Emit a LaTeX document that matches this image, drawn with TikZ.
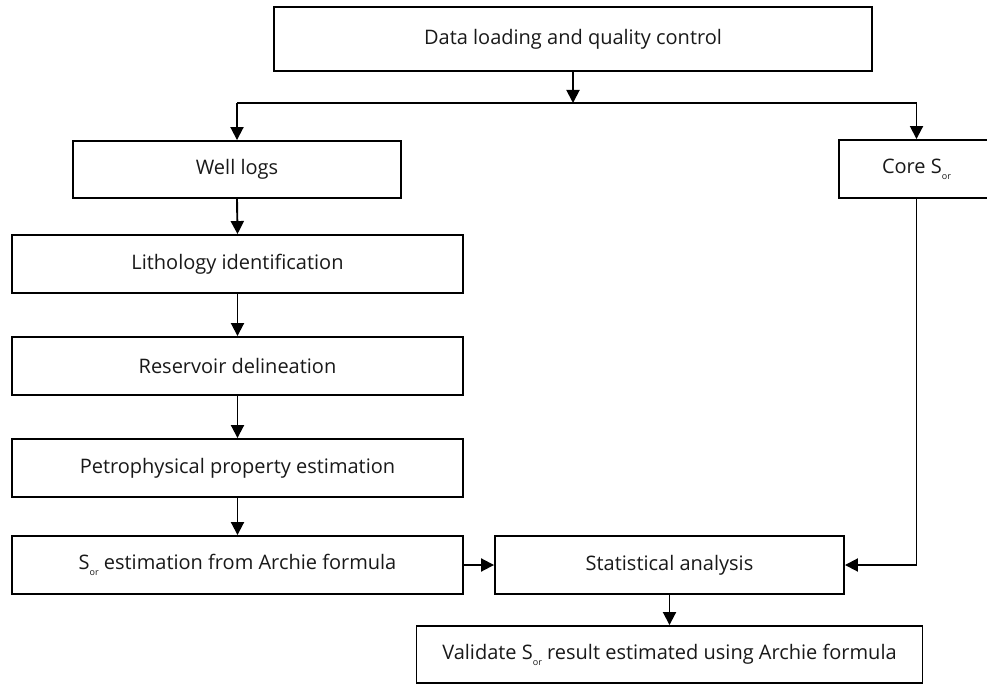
\documentclass[tikz,border=0pt]{standalone}
\usepackage{fontspec}
\setmainfont{Open Sans}
\usetikzlibrary{arrows.meta}
\newcommand\sorsub{S\raisebox{-0.3em}{\fontsize{9pt}{9pt}\selectfont or}}
\begin{document}
\begin{tikzpicture}[x=1pt,y=-1pt,
  box/.style={draw=black, line width=1.9pt, fill=white, inner sep=0pt, align=center,
    font=\fontsize{20pt}{24pt}\selectfont, text=black!90},
  conn/.style={line width=1.9pt, draw=black},
  arr/.style={conn, -{Triangle[width=13pt,length=13pt]}}]
\useasboundingbox (0,0) rectangle (987,684);
\node[box, minimum width=598pt, minimum height=64pt] (data) at (573,39) {Data loading and quality control};
\node[box, minimum width=328pt, minimum height=57pt] (well) at (237,169.5) {Well logs};
\node[box, minimum width=155pt, minimum height=58pt] (core) at (916.5,169) {Core \sorsub};
\node[box, minimum width=451pt, minimum height=58pt] (lith) at (237.5,264) {Lithology identification};
\node[box, minimum width=451pt, minimum height=58pt] (res) at (237.5,366) {Reservoir delineation};
\node[box, minimum width=451pt, minimum height=58pt] (pet) at (237.5,468) {Petrophysical property estimation};
\node[box, minimum width=451pt, minimum height=58pt] (sor) at (237.5,565) {\sorsub{} estimation from Archie formula};
\node[box, minimum width=349pt, minimum height=58pt] (stat) at (669.5,565) {Statistical analysis};
\node[box, minimum width=506pt, minimum height=57pt] (val) at (669.5,654.5) {Validate \sorsub{} result estimated using Archie formula};
\coordinate (jl) at (237,103);
\coordinate (jm) at (573,103);
\coordinate (jr) at (916.5,103);
\draw[arr] (data.south) -- (jm);
\draw[conn] (jl) -- (jr);
\draw[arr] (jl) -- (well.north);
\draw[arr] (jr) -- (core.north);
\draw[arr] (well.south) -- (lith.north);
\draw[arr] (lith.south) -- (res.north);
\draw[arr] (res.south) -- (pet.north);
\draw[arr] (pet.south) -- (sor.north);
\draw[arr] (sor.east) -- (stat.west);
\draw[arr] (core.south) |- (stat.east);
\draw[arr] (stat.south) -- (val.north);
\end{tikzpicture}
\end{document}
